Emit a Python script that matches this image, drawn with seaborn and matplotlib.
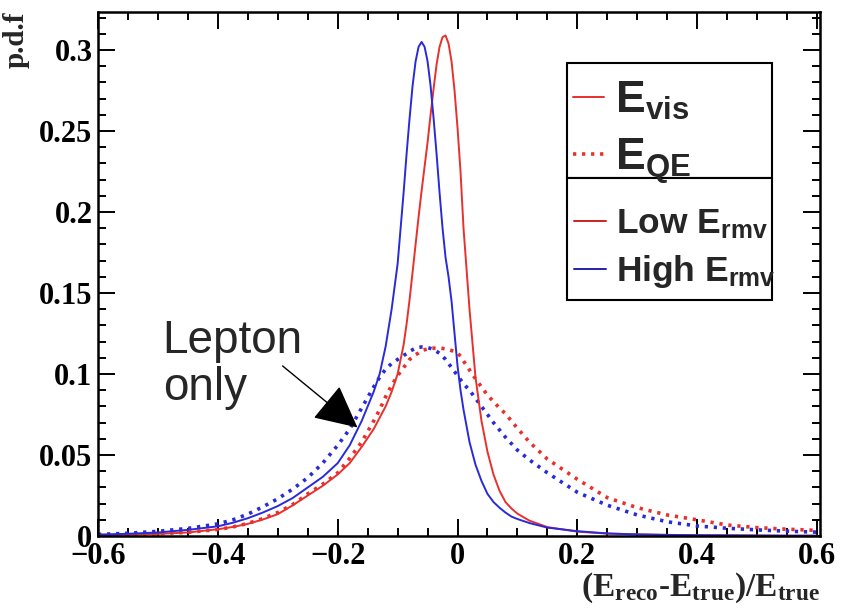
import matplotlib
matplotlib.use("Agg")
import matplotlib.pyplot as plt
import seaborn as sns
from matplotlib.lines import Line2D
from matplotlib.patches import Rectangle
from matplotlib.ticker import MultipleLocator, FixedLocator

# x grid (E_reco - E_true)/E_true
x_vals = [-0.6, -0.55, -0.5, -0.45, -0.4, -0.375, -0.35, -0.325, -0.3, -0.275,
          -0.25, -0.225, -0.2, -0.18, -0.16, -0.14, -0.13, -0.12, -0.11, -0.1,
          -0.09, -0.085, -0.08, -0.075, -0.07, -0.065, -0.06, -0.055, -0.05, -0.045,
          -0.04, -0.035, -0.03, -0.025, -0.02, -0.015, -0.01, -0.005, 0.0, 0.005,
          0.01, 0.02, 0.03, 0.04, 0.05, 0.06, 0.07, 0.08, 0.09, 0.1,
          0.12, 0.15, 0.2, 0.25, 0.3, 0.35, 0.4, 0.45, 0.5, 0.55, 0.6]

# E_vis, low E_rmv (solid red)
vis_low = [0.0005, 0.0008, 0.0013, 0.0022, 0.0042, 0.0056, 0.0075, 0.0102, 0.0135, 0.019,
           0.025, 0.031, 0.038, 0.045, 0.055, 0.066, 0.073, 0.080, 0.089, 0.100,
           0.118, 0.131, 0.146, 0.163, 0.180, 0.197, 0.213, 0.228, 0.243, 0.260,
           0.276, 0.291, 0.302, 0.308, 0.309, 0.304, 0.293, 0.275, 0.252, 0.225,
           0.19, 0.14, 0.098, 0.071, 0.052, 0.038, 0.028, 0.021, 0.017, 0.0138,
           0.0095, 0.0055, 0.0027, 0.0015, 0.001, 0.0007, 0.0005, 0.0004, 0.0003, 0.0002, 0.0002]

# E_vis, high E_rmv (solid blue)
vis_high = [0.0009, 0.0014, 0.0022, 0.0038, 0.006, 0.0082, 0.011, 0.0145, 0.0185, 0.0235,
            0.030, 0.0365, 0.045, 0.056, 0.071, 0.089, 0.100, 0.117, 0.140, 0.168,
            0.212, 0.236, 0.258, 0.278, 0.293, 0.302, 0.305, 0.302, 0.293, 0.278,
            0.258, 0.236, 0.212, 0.190, 0.172, 0.160, 0.145, 0.125, 0.105, 0.090,
            0.078, 0.058, 0.044, 0.034, 0.026, 0.021, 0.0175, 0.0145, 0.012, 0.0105,
            0.008, 0.0052, 0.003, 0.0016, 0.001, 0.0007, 0.0005, 0.0004, 0.0003, 0.0002, 0.0002]

# E_QE, low E_rmv (dotted red)
qe_low = [0.0005, 0.0008, 0.0014, 0.0023, 0.004, 0.0056, 0.0078, 0.0108, 0.0145, 0.0195,
          0.026, 0.032, 0.039, 0.048, 0.058, 0.071, 0.078, 0.086, 0.093, 0.099,
          0.104, 0.1065, 0.109, 0.1105, 0.112, 0.113, 0.1145, 0.115, 0.1155, 0.116,
          0.116, 0.116, 0.116, 0.1158, 0.1155, 0.115, 0.1145, 0.114, 0.113, 0.111,
          0.108, 0.1025, 0.097, 0.092, 0.087, 0.083, 0.079, 0.0755, 0.071, 0.0665,
          0.058, 0.0475, 0.035, 0.0237, 0.0175, 0.013, 0.010, 0.0068, 0.0052, 0.0042, 0.0035]

# E_QE, high E_rmv (dotted blue)
qe_high = [0.001, 0.0017, 0.0029, 0.0047, 0.0075, 0.010, 0.0135, 0.018, 0.023, 0.029,
           0.036, 0.045, 0.056, 0.066, 0.079, 0.092, 0.098, 0.103, 0.1065, 0.109,
           0.1115, 0.1125, 0.114, 0.115, 0.116, 0.1165, 0.1167, 0.1166, 0.1163, 0.1158,
           0.1152, 0.114, 0.1127, 0.111, 0.109, 0.1065, 0.104, 0.1015, 0.099, 0.0965,
           0.094, 0.090, 0.085, 0.080, 0.075, 0.070, 0.0655, 0.061, 0.057, 0.053,
           0.047, 0.039, 0.027, 0.019, 0.013, 0.0088, 0.0062, 0.0048, 0.0038, 0.003, 0.0024]

x_ticks = [-0.6, -0.4, -0.2, 0.0, 0.2, 0.4, 0.6]
x_ticklabels = ["\u22120.6", "\u22120.4", "\u22120.2", "0", "0.2", "0.4", "0.6"]
y_ticks = [0.0, 0.05, 0.1, 0.15, 0.2, 0.25, 0.3]
y_ticklabels = ["0", "0.05", "0.1", "0.15", "0.2", "0.25", "0.3"]

red = "#e8302c"
blue = "#2a2ad8"
dots = (0, (0.9, 1.6))

sns.set_style("ticks")
plt.rcParams["font.family"] = ["Liberation Serif", "DejaVu Serif"]
plt.rcParams["mathtext.fontset"] = "custom"
plt.rcParams["mathtext.rm"] = "Liberation Serif:bold"
plt.rcParams["mathtext.it"] = "Liberation Serif:bold"
plt.rcParams["mathtext.bf"] = "Liberation Serif:bold"
plt.rcParams["mathtext.sf"] = "Liberation Sans:bold"

fig = plt.figure(figsize=(8.51, 6.11), dpi=100)
ax = fig.add_axes([0.1152, 0.1227, 0.8484, 0.8577])

sns.lineplot(x=x_vals, y=qe_low, ax=ax, color=red, lw=2.6, linestyle=dots)
sns.lineplot(x=x_vals, y=qe_high, ax=ax, color=blue, lw=2.6, linestyle=dots)
sns.lineplot(x=x_vals, y=vis_low, ax=ax, color=red, lw=1.4)
sns.lineplot(x=x_vals, y=vis_high, ax=ax, color=blue, lw=1.4)

ax.set_xlim(-0.6, 0.605)
ax.set_ylim(0, 0.3235)

ax.xaxis.set_major_locator(FixedLocator(x_ticks))
ax.set_xticklabels(x_ticklabels)
ax.xaxis.set_minor_locator(MultipleLocator(0.05))
ax.yaxis.set_major_locator(FixedLocator(y_ticks))
ax.set_yticklabels(y_ticklabels)
ax.yaxis.set_minor_locator(MultipleLocator(0.01))

ax.tick_params(which="both", direction="in", top=True, right=True, width=1.4, colors="black")
ax.tick_params(which="major", length=12, labelsize=22, pad=4)
ax.tick_params(which="minor", length=6)
for lab in ax.get_xticklabels() + ax.get_yticklabels():
    lab.set_fontweight("bold")
for s in ax.spines.values():
    s.set_linewidth(1.8)
    s.set_color("black")

ax.set_ylabel("p.d.f", loc="top", fontsize=21, fontweight="bold", labelpad=7)
ax.set_xlabel(r"$\mathrm{(E_{reco}\text{-}E_{true})/E_{true}}$", loc="right", fontsize=24, labelpad=0)

# legend: one box split in two parts
ax.add_patch(Rectangle((0.6496, 0.683), 0.284, 0.22, transform=ax.transAxes,
                       facecolor="white", edgecolor="black", lw=1.5, zorder=4))
ax.add_patch(Rectangle((0.6496, 0.450), 0.284, 0.233, transform=ax.transAxes,
                       facecolor="white", edgecolor="black", lw=1.5, zorder=4))

h_vis = Line2D([], [], color=red, lw=1.4)
h_qe = Line2D([], [], color=red, lw=2.6, linestyle=dots)
h_low = Line2D([], [], color="#cc2222", lw=1.4)
h_high = Line2D([], [], color="#2222aa", lw=1.4)

leg1 = ax.legend(handles=[h_vis, h_qe], labels=[r"$\mathsf{E_{vis}}$", r"$\mathsf{E_{QE}}$"],
                 loc="center left", bbox_to_anchor=(0.645, 0.770), frameon=False,
                 borderaxespad=0, fontsize=32, handlelength=0.7, handletextpad=0.25,
                 labelspacing=0.32, borderpad=0.2)
ax.add_artist(leg1)
leg2 = ax.legend(handles=[h_low, h_high], labels=[r"$\mathsf{Low\ E_{rmv}}$", r"$\mathsf{High\ E_{rmv}}$"],
                 loc="center left", bbox_to_anchor=(0.645, 0.548), frameon=False,
                 borderaxespad=0, fontsize=25.5, handlelength=0.9, handletextpad=0.28,
                 labelspacing=0.33, borderpad=0.3)

ax.text(-0.492, 0.134, "Lepton\nonly", fontsize=33, family="Liberation Sans", va="top", ha="left",
        linespacing=1.08)
ax.annotate("", xy=(-0.167, 0.067), xytext=(-0.292, 0.105),
            arrowprops=dict(arrowstyle="-|>,head_length=0.9,head_width=0.45", mutation_scale=30,
                            lw=1, color="black", shrinkA=0, shrinkB=0))

fig.savefig("out.png", dpi=100)
